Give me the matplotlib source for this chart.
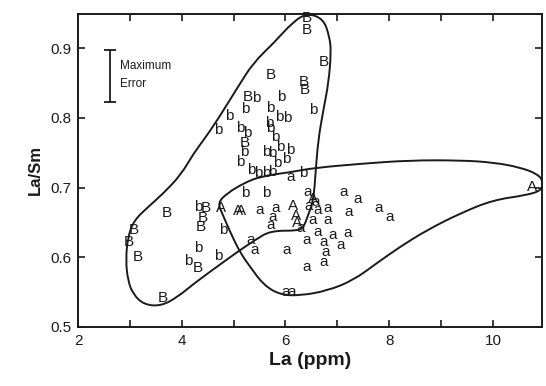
import matplotlib
matplotlib.use("Agg")
import matplotlib.pyplot as plt
from matplotlib.path import Path
from matplotlib.patches import PathPatch

plt.rcParams['font.family'] = ['Liberation Sans', 'DejaVu Sans']

# Sample points (La ppm, La/Sm), labelled by group letter
B_la = [6.42, 6.42, 6.73, 5.71, 6.35, 6.38, 5.27, 5.21, 3.08, 2.98, 3.15, 3.71, 4.46, 4.40, 4.37, 4.31, 3.63]
B_r  = [0.943, 0.926, 0.880, 0.861, 0.851, 0.840, 0.830, 0.764, 0.639, 0.622, 0.600, 0.663, 0.671, 0.656, 0.643, 0.585, 0.542]

b_la = [5.44, 5.92, 5.23, 5.71, 6.54, 4.92, 5.88, 6.04, 4.71, 5.13, 5.27, 5.69, 5.71, 5.81, 5.21, 5.62, 5.75,
        5.90, 6.10, 5.85, 6.02, 5.13, 5.33, 5.48, 5.62, 5.75, 6.35, 5.23, 5.62, 4.31, 4.79, 4.31, 4.71, 4.12]
b_r  = [0.828, 0.830, 0.813, 0.814, 0.811, 0.803, 0.801, 0.800, 0.782, 0.785, 0.778, 0.792, 0.785, 0.772, 0.751, 0.751, 0.749,
        0.758, 0.754, 0.735, 0.741, 0.737, 0.725, 0.721, 0.721, 0.722, 0.721, 0.692, 0.692, 0.672, 0.639, 0.613, 0.602, 0.595]

A_la = [4.75, 5.08, 5.15, 6.15, 6.21, 6.23, 6.54, 10.75]
A_r  = [0.671, 0.666, 0.666, 0.673, 0.659, 0.649, 0.684, 0.701]

a_la = [6.10, 6.42, 7.12, 7.40, 6.81, 7.21, 7.79, 8.00, 6.62, 6.52, 6.81, 5.50, 5.81, 5.75, 5.71, 6.29,
        5.33, 5.40, 6.02, 6.40, 6.62, 6.73, 6.90, 7.06, 7.19, 6.77, 6.73, 6.40, 6.00, 6.12, 6.58, 6.44]
a_r  = [0.715, 0.694, 0.694, 0.684, 0.671, 0.665, 0.671, 0.658, 0.668, 0.653, 0.653, 0.668, 0.671, 0.658, 0.646, 0.642,
        0.625, 0.610, 0.610, 0.625, 0.636, 0.622, 0.632, 0.618, 0.635, 0.608, 0.593, 0.586, 0.550, 0.550, 0.679, 0.673]

# Field envelopes (La ppm, La/Sm), control vertices of closed outlines
envB_la = [6.42, 6.73, 6.85, 6.88, 6.83, 6.73, 6.63, 6.58, 6.54, 6.44, 6.35, 6.25, 5.71, 5.42, 5.08, 4.69,
           4.23, 3.92, 3.60, 3.27, 3.06, 2.96, 2.92, 2.96, 3.08, 3.35, 3.65, 3.98, 4.23, 4.42, 4.69, 5.08,
           5.38, 5.77, 6.15]
envB_r  = [0.950, 0.942, 0.916, 0.894, 0.850, 0.811, 0.768, 0.721, 0.682, 0.661, 0.643, 0.638, 0.638, 0.625, 0.608, 0.587,
           0.562, 0.543, 0.530, 0.532, 0.547, 0.567, 0.596, 0.629, 0.653, 0.672, 0.692, 0.718, 0.749, 0.768, 0.797, 0.844,
           0.879, 0.907, 0.938]

envA_la = [4.69, 4.88, 5.19, 5.52, 6.10, 6.54, 7.44, 8.40, 9.37, 10.00, 10.52, 10.87, 10.97, 10.94, 10.65, 10.00,
           9.37, 8.73, 8.21, 7.77, 7.31, 6.81, 6.29, 5.90, 5.58, 5.33, 5.13, 4.94, 4.79]
envA_r  = [0.678, 0.692, 0.706, 0.716, 0.722, 0.728, 0.734, 0.739, 0.739, 0.736, 0.729, 0.719, 0.708, 0.696, 0.689, 0.682,
           0.663, 0.639, 0.615, 0.592, 0.567, 0.552, 0.545, 0.546, 0.560, 0.585, 0.606, 0.635, 0.661]

x_ticks = [2, 4, 6, 8, 10]
y_ticks = [0.5, 0.6, 0.7, 0.8, 0.9]
err_x = 2.62
err_lo, err_hi = 0.823, 0.897


def smooth_outline(xs, ys):
    """Closed quadratic-Bezier outline using the given vertices as control points."""
    n = len(xs)
    mids = [((xs[i] + xs[(i + 1) % n]) / 2, (ys[i] + ys[(i + 1) % n]) / 2) for i in range(n)]
    verts = [mids[-1]]
    codes = [Path.MOVETO]
    for i in range(n):
        verts += [(xs[i], ys[i]), mids[i]]
        codes += [Path.CURVE3, Path.CURVE3]
    return Path(verts, codes)


fig = plt.figure(figsize=(5.46, 3.86), dpi=100)
ax = fig.add_axes([0.143, 0.153, 0.85, 0.811])
ax.set_xlim(2, 10.95)
ax.set_ylim(0.5, 0.949)

ink = '#1a1a1a'
ax.add_patch(PathPatch(smooth_outline(envB_la, envB_r), fill=False, ec=ink, lw=1.4))
ax.add_patch(PathPatch(smooth_outline(envA_la, envA_r), fill=False, ec=ink, lw=1.4))

for xs, ys, lab in [(B_la, B_r, 'B'), (b_la, b_r, 'b'), (A_la, A_r, 'A'), (a_la, a_r, 'a')]:
    for x, y in zip(xs, ys):
        ax.text(x, y, lab, ha='center', va='center', fontsize=11, color=ink)

# Maximum error bar
ax.errorbar([err_x], [(err_lo + err_hi) / 2], yerr=[[(err_hi - err_lo) / 2]], color=ink,
            capsize=4, lw=1.3, capthick=1.3)
ax.text(err_x + 0.18, 0.874, 'Maximum', fontsize=8.5, va='center', ha='left', color=ink)
ax.text(err_x + 0.18, 0.848, 'Error', fontsize=8.5, va='center', ha='left', color=ink)

ax.set_xticks(x_ticks)
ax.set_xticks([3, 5, 7, 9], minor=True)
ax.set_yticks(y_ticks)
ax.set_yticklabels(['0.5', '0.6', '0.7', '0.8', '0.9'])
ax.tick_params(which='both', direction='in', top=True, right=True, length=5, width=1.2,
               labelsize=11, colors=ink, pad=5)
for s in ax.spines.values():
    s.set_linewidth(1.4)
    s.set_color(ink)

ax.set_xlabel('La (ppm)', fontsize=14, fontweight='bold', color=ink, labelpad=3)
ax.set_ylabel('La/Sm', fontsize=12, fontweight='bold', color=ink, labelpad=5)

fig.savefig('out.png', dpi=100)
